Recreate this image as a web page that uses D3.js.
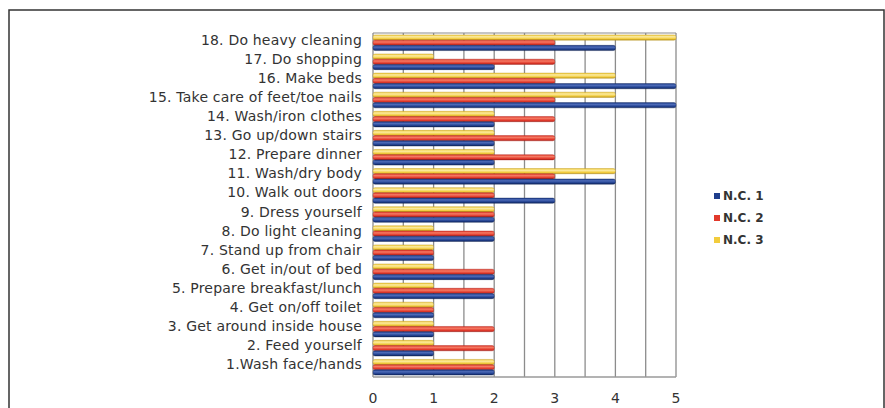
<!DOCTYPE html>
<html>
<head>
<meta charset="utf-8">
<script src="https://cdn.jsdelivr.net/npm/d3@7"></script>
<style>
  body { margin: 0; background: #fff; }
  svg { display: block; }
  text { font-family: "DejaVu Sans", sans-serif; fill: #333; }
</style>
</head>
<body>
<svg id="chart" width="885" height="408"></svg>
<script>
// activities, top to bottom as drawn
const activities = [
  "18. Do heavy cleaning", "17. Do shopping", "16. Make beds",
  "15. Take care of feet/toe nails", "14. Wash/iron clothes", "13. Go up/down stairs",
  "12. Prepare dinner", "11. Wash/dry body", "10. Walk out doors",
  "9. Dress yourself", "8. Do light cleaning", "7. Stand up from chair",
  "6. Get in/out of bed", "5. Prepare breakfast/lunch", "4. Get on/off toilet",
  "3. Get around inside house", "2. Feed yourself", "1.Wash face/hands"
];
const nc1 = [4, 2, 5, 5, 2, 2, 2, 4, 3, 2, 2, 1, 2, 2, 1, 1, 1, 2];
const nc2 = [3, 3, 3, 3, 3, 3, 3, 3, 2, 2, 2, 1, 2, 2, 1, 2, 2, 2];
const nc3 = [5, 1, 4, 4, 2, 2, 2, 4, 2, 2, 1, 1, 1, 1, 1, 1, 1, 2];
const seriesNames = ["N.C. 1", "N.C. 2", "N.C. 3"];
const xTicks = [0, 1, 2, 3, 4, 5];

const svg = d3.select("#chart");

// outer frame
svg.append("rect")
  .attr("x", 9).attr("y", 10).attr("width", 875).attr("height", 410)
  .attr("fill", "none").attr("stroke", "#333").attr("stroke-width", 1.5);

const x = d3.scaleLinear().domain([0, 5]).range([373, 676]);
const y = d3.scaleBand().domain(activities).range([33, 377]).paddingInner(0.18).paddingOuter(0.1);

// draw order inside a group: yellow, red, blue
const series = [
  { name: "N.C. 3", values: nc3, base: "#f2cc3c", light: "#fbeaa0", dark: "#b8921a" },
  { name: "N.C. 2", values: nc2, base: "#e2392b", light: "#f47a64", dark: "#a8221a" },
  { name: "N.C. 1", values: nc1, base: "#1f3e8c", light: "#4d6bb8", dark: "#0f2358" }
];
const ySub = d3.scaleBand().domain(series.map(s => s.name)).range([0, y.bandwidth()]);

// cylinder shading
const defs = svg.append("defs");
series.forEach((s, i) => {
  const g = defs.append("linearGradient")
    .attr("id", "grad" + i).attr("x1", 0).attr("y1", 0).attr("x2", 0).attr("y2", 1);
  g.append("stop").attr("offset", "0%").attr("stop-color", s.base);
  g.append("stop").attr("offset", "35%").attr("stop-color", s.light);
  g.append("stop").attr("offset", "75%").attr("stop-color", s.base);
  g.append("stop").attr("offset", "100%").attr("stop-color", s.dark);
});

// grid lines every half unit
const grid = d3.range(0, 5.01, 0.5);
svg.append("g").selectAll("line")
  .data(grid)
  .join("line")
  .attr("x1", d => x(d)).attr("x2", d => x(d))
  .attr("y1", 33).attr("y2", 377)
  .attr("stroke", "#8c8c8c").attr("stroke-width", 1.3);

svg.append("line")
  .attr("x1", x(0)).attr("x2", x(5)).attr("y1", 33).attr("y2", 33)
  .attr("stroke", "#8c8c8c").attr("stroke-width", 1.2);
svg.append("line")
  .attr("x1", x(0)).attr("x2", x(5)).attr("y1", 377).attr("y2", 377)
  .attr("stroke", "#9a9a9a").attr("stroke-width", 1.5);

// bars
series.forEach((s, i) => {
  svg.append("g").selectAll("rect")
    .data(activities.map((a, j) => ({ a, v: s.values[j] })))
    .join("rect")
    .attr("x", x(0))
    .attr("y", d => y(d.a) + ySub(s.name))
    .attr("width", d => x(d.v) - x(0))
    .attr("height", ySub.bandwidth())
    .attr("rx", 2)
    .attr("fill", `url(#grad${i})`)
    .attr("stroke", s.dark).attr("stroke-width", 0.4);
});

// category labels
svg.append("g").selectAll("text")
  .data(activities)
  .join("text")
  .attr("x", 362)
  .attr("y", d => y(d) + y.bandwidth() / 2 - 2)
  .attr("text-anchor", "end")
  .attr("dominant-baseline", "middle")
  .style("font-size", "14px")
  .style("letter-spacing", "0.2px")
  .text(d => d);

// x tick labels
svg.append("g").selectAll("text")
  .data(xTicks)
  .join("text")
  .attr("x", d => x(d))
  .attr("y", 403)
  .attr("text-anchor", "middle")
  .style("font-size", "14px")
  .text(d => d);

// legend
const legendColors = { "N.C. 1": "#1f3e8c", "N.C. 2": "#e2392b", "N.C. 3": "#f2cc3c" };
const legend = svg.append("g").selectAll("g")
  .data(seriesNames)
  .join("g")
  .attr("transform", (d, i) => `translate(714,${196 + i * 22})`);
legend.append("rect")
  .attr("x", 0).attr("y", -3).attr("width", 6).attr("height", 6)
  .attr("fill", d => legendColors[d]);
legend.append("text")
  .attr("x", 9).attr("y", 0)
  .attr("dominant-baseline", "middle")
  .style("font-size", "12px")
  .style("font-weight", "bold")
  .text(d => d);
</script>
</body>
</html>
